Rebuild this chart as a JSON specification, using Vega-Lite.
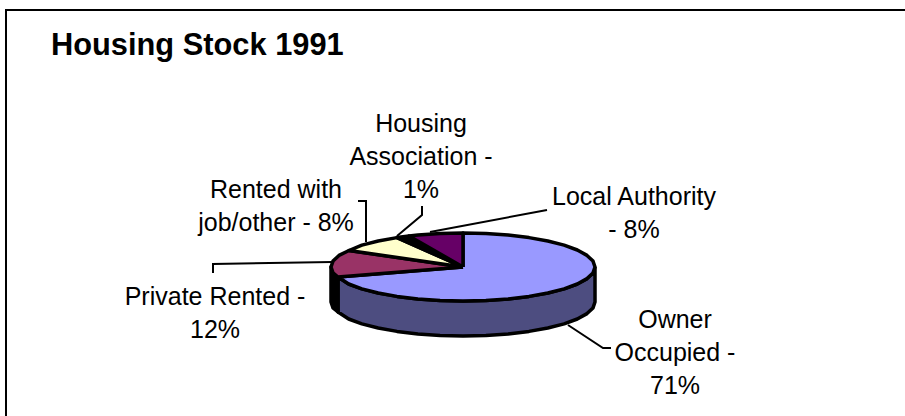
{"$schema":"https://vega.github.io/schema/vega-lite/v6.json","width":905,"height":416,"padding":0,"autosize":{"type":"none"},"background":"white","view":{"stroke":null},"datasets":{"pie":[
{"part":"Owner side","seq":0,"x":132,"y":0},{"part":"Owner side","seq":1,"x":130,"y":-5.9},{"part":"Owner side","seq":2,"x":124,"y":-11.6},{"part":"Owner side","seq":3,"x":114.3,"y":-17},{"part":"Owner side","seq":4,"x":101.1,"y":-21.9},{"part":"Owner side","seq":5,"x":84.8,"y":-26},{"part":"Owner side","seq":6,"x":66,"y":-29.4},{"part":"Owner side","seq":7,"x":45.1,"y":-31.9},{"part":"Owner side","seq":8,"x":22.9,"y":-33.5},{"part":"Owner side","seq":9,"x":0,"y":-34},{"part":"Owner side","seq":10,"x":-22.9,"y":-33.5},{"part":"Owner side","seq":11,"x":-45.1,"y":-31.9},{"part":"Owner side","seq":12,"x":-66,"y":-29.4},{"part":"Owner side","seq":13,"x":-84.8,"y":-26},{"part":"Owner side","seq":14,"x":-101.1,"y":-21.9},{"part":"Owner side","seq":15,"x":-114.3,"y":-17},{"part":"Owner side","seq":16,"x":-125,"y":-10},
{"part":"Owner side","seq":17,"x":-125,"y":-45},{"part":"Owner side","seq":18,"x":-114.3,"y":-52},{"part":"Owner side","seq":19,"x":-101.1,"y":-56.9},{"part":"Owner side","seq":20,"x":-84.8,"y":-61},{"part":"Owner side","seq":21,"x":-66,"y":-64.4},{"part":"Owner side","seq":22,"x":-45.1,"y":-66.9},{"part":"Owner side","seq":23,"x":-22.9,"y":-68.5},{"part":"Owner side","seq":24,"x":0,"y":-69},{"part":"Owner side","seq":25,"x":22.9,"y":-68.5},{"part":"Owner side","seq":26,"x":45.1,"y":-66.9},{"part":"Owner side","seq":27,"x":66,"y":-64.4},{"part":"Owner side","seq":28,"x":84.8,"y":-61},{"part":"Owner side","seq":29,"x":101.1,"y":-56.9},{"part":"Owner side","seq":30,"x":114.3,"y":-52},{"part":"Owner side","seq":31,"x":124,"y":-46.6},{"part":"Owner side","seq":32,"x":130,"y":-40.9},{"part":"Owner side","seq":33,"x":132,"y":-35},{"part":"Owner side","seq":34,"x":132,"y":0},
{"part":"Private side","seq":0,"x":-125,"y":-10},{"part":"Private side","seq":1,"x":-130,"y":-5.9},{"part":"Private side","seq":2,"x":-132,"y":0},{"part":"Private side","seq":3,"x":-132,"y":-35},{"part":"Private side","seq":4,"x":-130,"y":-40.9},{"part":"Private side","seq":5,"x":-125,"y":-45},{"part":"Private side","seq":6,"x":-125,"y":-10},
{"part":"Owner Occupied","seq":0,"x":0,"y":0},{"part":"Owner Occupied","seq":1,"x":0,"y":34},{"part":"Owner Occupied","seq":2,"x":22.9,"y":33.5},{"part":"Owner Occupied","seq":3,"x":45.1,"y":31.9},{"part":"Owner Occupied","seq":4,"x":66,"y":29.4},{"part":"Owner Occupied","seq":5,"x":84.8,"y":26},{"part":"Owner Occupied","seq":6,"x":101.1,"y":21.9},{"part":"Owner Occupied","seq":7,"x":114.3,"y":17},{"part":"Owner Occupied","seq":8,"x":124,"y":11.6},{"part":"Owner Occupied","seq":9,"x":130,"y":5.9},{"part":"Owner Occupied","seq":10,"x":132,"y":0},{"part":"Owner Occupied","seq":11,"x":130,"y":-5.9},{"part":"Owner Occupied","seq":12,"x":124,"y":-11.6},{"part":"Owner Occupied","seq":13,"x":114.3,"y":-17},{"part":"Owner Occupied","seq":14,"x":101.1,"y":-21.9},{"part":"Owner Occupied","seq":15,"x":84.8,"y":-26},{"part":"Owner Occupied","seq":16,"x":66,"y":-29.4},{"part":"Owner Occupied","seq":17,"x":45.1,"y":-31.9},{"part":"Owner Occupied","seq":18,"x":22.9,"y":-33.5},{"part":"Owner Occupied","seq":19,"x":0,"y":-34},{"part":"Owner Occupied","seq":20,"x":-22.9,"y":-33.5},{"part":"Owner Occupied","seq":21,"x":-45.1,"y":-31.9},{"part":"Owner Occupied","seq":22,"x":-66,"y":-29.4},{"part":"Owner Occupied","seq":23,"x":-84.8,"y":-26},{"part":"Owner Occupied","seq":24,"x":-101.1,"y":-21.9},{"part":"Owner Occupied","seq":25,"x":-114.3,"y":-17},{"part":"Owner Occupied","seq":26,"x":-125,"y":-10},{"part":"Owner Occupied","seq":27,"x":0,"y":0},
{"part":"Private Rented","seq":0,"x":0,"y":0},{"part":"Private Rented","seq":1,"x":-125,"y":-10},{"part":"Private Rented","seq":2,"x":-130,"y":-5.9},{"part":"Private Rented","seq":3,"x":-132,"y":0},{"part":"Private Rented","seq":4,"x":-130,"y":5.9},{"part":"Private Rented","seq":5,"x":-124,"y":11.6},{"part":"Private Rented","seq":6,"x":-114,"y":16.5},{"part":"Private Rented","seq":7,"x":0,"y":0},
{"part":"Rented with job/other","seq":0,"x":0,"y":0},{"part":"Rented with job/other","seq":1,"x":-114,"y":16.5},{"part":"Rented with job/other","seq":2,"x":-101.1,"y":21.9},{"part":"Rented with job/other","seq":3,"x":-84.8,"y":26},{"part":"Rented with job/other","seq":4,"x":-66,"y":29.4},{"part":"Rented with job/other","seq":5,"x":0,"y":0},
{"part":"Housing Association","seq":0,"x":0,"y":0},{"part":"Housing Association","seq":1,"x":-66,"y":29.4},{"part":"Housing Association","seq":2,"x":-54,"y":31},{"part":"Housing Association","seq":3,"x":0,"y":0},
{"part":"Local Authority","seq":0,"x":0,"y":0},{"part":"Local Authority","seq":1,"x":-54,"y":31},{"part":"Local Authority","seq":2,"x":-45.1,"y":31.9},{"part":"Local Authority","seq":3,"x":-22.9,"y":33.5},{"part":"Local Authority","seq":4,"x":0,"y":34},{"part":"Local Authority","seq":5,"x":0,"y":0}
],"guides":[
{"guide":"frame","seq":0,"x":-457,"y":-149},{"guide":"frame","seq":1,"x":-457,"y":257},{"guide":"frame","seq":2,"x":442,"y":257},
{"guide":"Owner Occupied","seq":0,"x":105,"y":-58},{"guide":"Owner Occupied","seq":1,"x":140,"y":-81},{"guide":"Owner Occupied","seq":2,"x":148,"y":-81},
{"guide":"Private Rented","seq":0,"x":-250,"y":-6},{"guide":"Private Rented","seq":1,"x":-250,"y":3},{"guide":"Private Rented","seq":2,"x":-131,"y":5},
{"guide":"Rented with job/other","seq":0,"x":-105,"y":66},{"guide":"Rented with job/other","seq":1,"x":-97,"y":66},{"guide":"Rented with job/other","seq":2,"x":-97,"y":25},
{"guide":"Housing Association","seq":0,"x":-41,"y":61},{"guide":"Housing Association","seq":1,"x":-41,"y":52},{"guide":"Housing Association","seq":2,"x":-66,"y":31},
{"guide":"Local Authority","seq":0,"x":84,"y":57},{"guide":"Local Authority","seq":1,"x":-33,"y":35}
],"labels":[
{"label":"Housing\nAssociation -\n1%","share":1,"x":-42,"y":143.5},
{"label":"Rented with\njob/other - 8%","share":8,"x":-187,"y":77.5},
{"label":"Local Authority\n- 8%","share":8,"x":171,"y":70.5},
{"label":"Private Rented -\n12%","share":12,"x":-248,"y":-29.5},
{"label":"Owner\nOccupied -\n71%","share":71,"x":212,"y":-52.5}
],"heading":[{"label":"Housing Stock 1991","x":-412,"y":212}]},
"layer":[
{"data":{"name":"guides"},"mark":{"type":"line","stroke":"black","strokeWidth":2,"strokeJoin":"miter","clip":false},"encoding":{"x":{"field":"x","type":"quantitative","scale":{"domain":[-463,442],"nice":false,"zero":false},"axis":null},"y":{"field":"y","type":"quantitative","scale":{"domain":[-149,267],"nice":false,"zero":false},"axis":null},"detail":{"field":"guide"},"order":{"field":"seq"}}},
{"data":{"name":"pie"},"mark":{"type":"line","stroke":"black","strokeWidth":3.5,"strokeJoin":"round"},"encoding":{"x":{"field":"x","type":"quantitative","axis":null},"y":{"field":"y","type":"quantitative","axis":null},"fill":{"field":"part","type":"nominal","legend":null,"scale":{"domain":["Owner side","Private side","Owner Occupied","Private Rented","Rented with job/other","Housing Association","Local Authority"],"range":["#4D4D80","#000000","#9999FF","#993366","#FFFFCC","#000000","#660066"]}},"detail":{"field":"part"},"order":{"field":"seq"}}},
{"data":{"name":"labels"},"mark":{"type":"text","font":"Liberation Sans","fontSize":25,"lineBreak":"\n","lineHeight":33,"align":"center","baseline":"middle","color":"black"},"encoding":{"x":{"field":"x","type":"quantitative","axis":null},"y":{"field":"y","type":"quantitative","axis":null},"text":{"field":"label"}}},
{"data":{"name":"heading"},"mark":{"type":"text","font":"Liberation Sans","fontSize":30.8,"fontWeight":"bold","align":"left","baseline":"alphabetic","color":"black"},"encoding":{"x":{"field":"x","type":"quantitative","axis":null},"y":{"field":"y","type":"quantitative","axis":null},"text":{"field":"label"}}}
]}
